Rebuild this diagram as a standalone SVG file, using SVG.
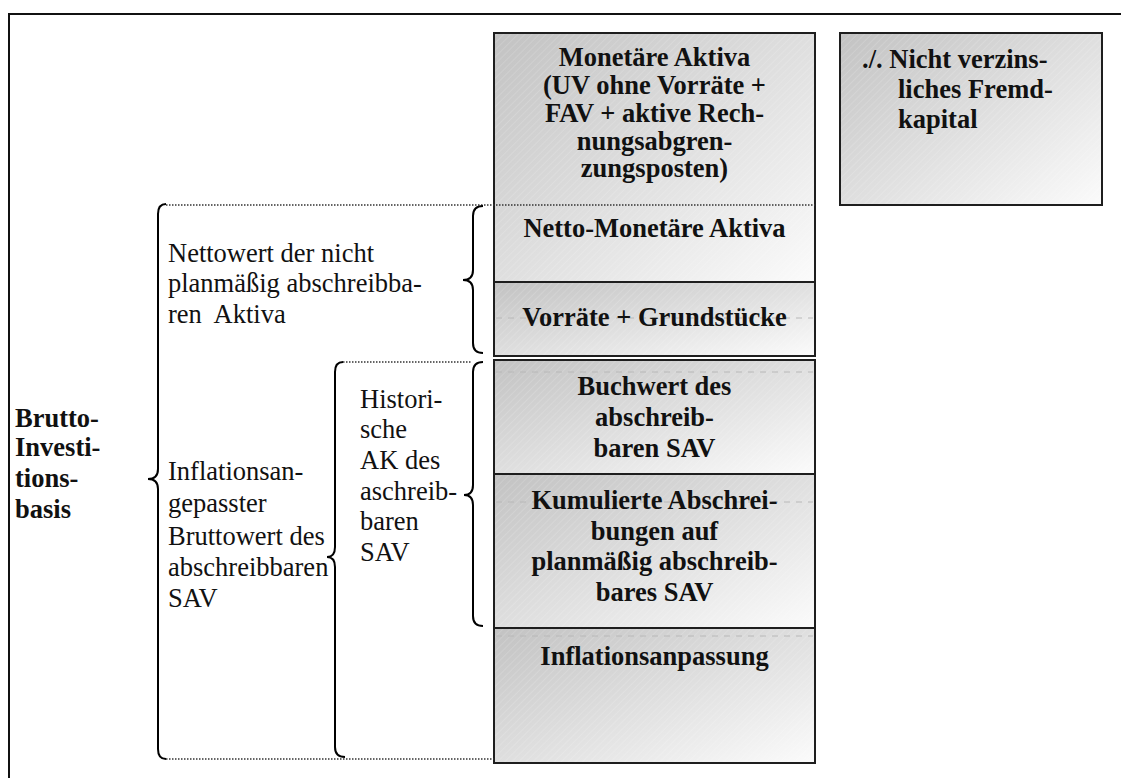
<svg xmlns="http://www.w3.org/2000/svg" width="1121" height="778" viewBox="0 0 1121 778">
<style>
.box{stroke:#1e1e1e;stroke-width:2}
.bt{font-family:"Liberation Serif","Times New Roman",serif;font-weight:bold;font-size:26.5px;text-anchor:middle;fill:#111}
.bl{font-family:"Liberation Serif","Times New Roman",serif;font-weight:bold;font-size:26.5px;fill:#111}
.rt{font-family:"Liberation Serif","Times New Roman",serif;font-size:26.5px;fill:#111;white-space:pre}
.brace{fill:none;stroke:#000;stroke-width:2}
.dot{fill:none;stroke:#333;stroke-width:1.5;stroke-dasharray:1.5 1.5}
.band{fill:none;stroke:#b8b8b8;stroke-width:1;stroke-dasharray:6 6}
</style>
<defs>
<linearGradient id="gr" x1="0" y1="0" x2="1" y2="1">
<stop offset="0" stop-color="#c2c2c2"/>
<stop offset="1" stop-color="#fbfbfb"/>
</linearGradient>
<pattern id="hatch" patternUnits="userSpaceOnUse" width="5" height="5" patternTransform="rotate(45)">
<line x1="0" y1="0" x2="0" y2="5" stroke="#ffffff" stroke-opacity="0.35" stroke-width="0.8"/>
</pattern>
</defs>
<rect width="1121" height="778" fill="#ffffff"/>
<path d="M9 778 L9 14 L1121 14" fill="none" stroke="#111" stroke-width="2"/>

<g id="box-monetaer">
<rect x="494" y="33" width="321" height="249" fill="url(#gr)"/>
<rect x="494" y="33" width="321" height="249" fill="url(#hatch)" class="box"/>
<text class="bt" x="654.5" y="66">Monetäre Aktiva</text>
<text class="bt" x="654.5" y="94">(UV ohne Vorräte +</text>
<text class="bt" x="654.5" y="122">FAV + aktive Rech-</text>
<text class="bt" x="654.5" y="150">nungsabgren-</text>
<text class="bt" x="654.5" y="177">zungsposten)</text>
<text class="bt" x="654.5" y="237">Netto-Monetäre Aktiva</text>
</g>

<g id="box-vorraete">
<rect x="494" y="282" width="321" height="74" fill="url(#gr)"/>
<rect x="494" y="282" width="321" height="74" fill="url(#hatch)" class="box"/>
<line class="band" x1="496" y1="318" x2="813" y2="318"/>
<text class="bt" x="654.5" y="326">Vorräte + Grundstücke</text>
</g>

<g id="box-buchwert">
<rect x="494" y="360" width="321" height="114" fill="url(#gr)"/>
<rect x="494" y="360" width="321" height="114" fill="url(#hatch)" class="box"/>
<line class="band" x1="496" y1="372" x2="813" y2="372"/>
<text class="bt" x="654.5" y="395">Buchwert des</text>
<text class="bt" x="654.5" y="426">abschreib-</text>
<text class="bt" x="654.5" y="457">baren SAV</text>
</g>

<g id="box-kumuliert">
<rect x="494" y="474" width="321" height="154" fill="url(#gr)"/>
<rect x="494" y="474" width="321" height="154" fill="url(#hatch)" class="box"/>
<line class="band" x1="496" y1="502" x2="813" y2="502"/>
<text class="bt" x="654.5" y="509">Kumulierte Abschrei-</text>
<text class="bt" x="654.5" y="539.5">bungen auf</text>
<text class="bt" x="654.5" y="570">planmäßig abschreib-</text>
<text class="bt" x="654.5" y="601">bares SAV</text>
</g>

<g id="box-inflation">
<rect x="494" y="628" width="321" height="135" fill="url(#gr)"/>
<rect x="494" y="628" width="321" height="135" fill="url(#hatch)" class="box"/>
<line class="band" x1="496" y1="636" x2="813" y2="636"/>
<text class="bt" x="654.5" y="665">Inflationsanpassung</text>
</g>

<g id="box-fremdkapital">
<rect x="840" y="33" width="262" height="172" fill="url(#gr)"/>
<rect x="840" y="33" width="262" height="172" fill="url(#hatch)" class="box"/>
<text class="bl" x="862" y="68">./. Nicht verzins-</text>
<text class="bl" x="898" y="98">liches Fremd-</text>
<text class="bl" x="898" y="128">kapital</text>
</g>

<g id="label-brutto">
<text class="bl" x="15" y="427">Brutto-</text>
<text class="bl" x="15" y="456">Investi-</text>
<text class="bl" x="15" y="487">tions-</text>
<text class="bl" x="15" y="518">basis</text>
</g>

<g id="label-nettowert">
<text class="rt" x="168" y="262">Nettowert der nicht</text>
<text class="rt" x="168" y="292">planmäßig abschreibba-</text>
<text class="rt" x="168" y="323">ren  Aktiva</text>
</g>

<g id="label-inflationsangepasst">
<text class="rt" x="168" y="480">Inflationsan-</text>
<text class="rt" x="168" y="512">gepasster</text>
<text class="rt" x="168" y="545">Bruttowert des</text>
<text class="rt" x="168" y="576">abschreibbaren</text>
<text class="rt" x="168" y="607">SAV</text>
</g>

<g id="label-historisch">
<text class="rt" x="360" y="408">Histori-</text>
<text class="rt" x="360" y="438">sche</text>
<text class="rt" x="360" y="469">AK des</text>
<text class="rt" x="360" y="500">aschreib-</text>
<text class="rt" x="360" y="530">baren</text>
<text class="rt" x="360" y="561">SAV</text>
</g>

<g id="connectors">
<path class="dot" d="M166 205 L815 205"/>
<path class="dot" d="M343 362 L471 362"/>
<path class="dot" d="M166 759 L494 759"/>
<path class="brace" d="M166 204 Q158 204 158 214 L158 469 Q158 479 148 479 Q158 479 158 489 L158 749 Q158 759 166 759"/>
<path class="brace" d="M483 206 Q473 206 473 216 L473 270 Q473 280 463 280 Q473 280 473 290 L473 343 Q473 353 483 353"/>
<path class="brace" d="M343 362 Q335 362 335 372 L335 547 Q335 557 327 557 Q335 557 335 567 L335 747 Q335 757 345 757"/>
<path class="brace" d="M483 362 Q473 362 473 372 L473 485 Q473 495 464 495 Q473 495 473 505 L473 616 Q473 626 483 626"/>
</g>
</svg>
